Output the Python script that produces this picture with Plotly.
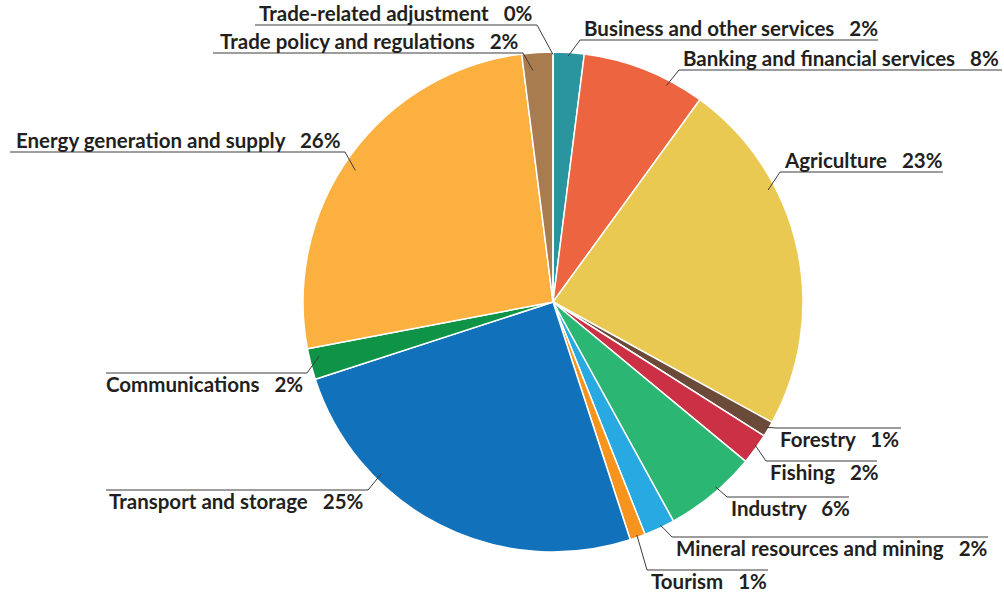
import math
import plotly.graph_objects as go

# Aid for trade by sector, share of total (%)
sectors = [
    "Business and other services",
    "Banking and financial services",
    "Agriculture",
    "Forestry",
    "Fishing",
    "Industry",
    "Mineral resources and mining",
    "Tourism",
    "Transport and storage",
    "Communications",
    "Energy generation and supply",
    "Trade policy and regulations",
    "Trade-related adjustment",
]
shares = [2, 8, 23, 1, 2, 6, 2, 1, 25, 2, 26, 2, 0]
colors = [
    "#2a959e", "#ec6440", "#eac952", "#6b4a3a", "#cc3044", "#2bb673",
    "#29a9e1", "#f7941e", "#1172bb", "#0f9346", "#fbb040", "#a97c50",
    "#6d6e71",
]

W, H = 1004, 592
CX, CY, R = 553, 302, 250  # pie centre and radius in pixels

# Label layout: where the leader starts inside its slice (fraction of the
# slice's sweep, fraction of the radius), the elbow point, the far end of the
# underline, which side the text sits on, and whether it sits above the line.
label_layout = {
    "Business and other services":    dict(f=0.49, rr=0.985, elbow=(580, 40),  end=878, side="right", above=True),
    "Banking and financial services": dict(f=0.71, rr=0.977, elbow=(679, 70),  end=1002, side="right", above=True),
    "Agriculture":                    dict(f=0.32, rr=0.97,  elbow=(780, 172), end=943, side="right", above=True),
    "Forestry":                       dict(f=0.45, rr=0.99,  elbow=(776, 428), end=901, side="right", above=False),
    "Fishing":                        dict(f=0.40, rr=0.99,  elbow=(766, 461), end=877, side="right", above=False),
    "Industry":                       dict(f=0.42, rr=0.985, elbow=(727, 497), end=849, side="right", above=False),
    "Mineral resources and mining":   dict(f=0.43, rr=0.99,  elbow=(672, 537), end=988, side="right", above=False),
    "Tourism":                        dict(f=0.50, rr=0.99,  elbow=(647, 570), end=768, side="right", above=False),
    "Transport and storage":          dict(f=0.70, rr=0.97,  elbow=(368, 490), end=106, side="left", above=False),
    "Communications":                 dict(f=0.69, rr=0.96,  elbow=(307, 373), end=106, side="left", above=False),
    "Energy generation and supply":   dict(f=0.475, rr=0.95, elbow=(345, 152), end=10,  side="left", above=True),
    "Trade policy and regulations":   dict(f=0.31, rr=0.93,  elbow=(523, 53),  end=213, side="left", above=True),
    "Trade-related adjustment":       dict(f=0.50, rr=0.99,  elbow=(537, 25),  end=255, side="left", above=True),
}


def px(x):
    return x / W


def py(y):
    return 1 - y / H


fig = go.Figure(
    go.Pie(
        labels=sectors,
        values=shares,
        sort=False,
        direction="clockwise",
        rotation=0,
        marker=dict(colors=colors, line=dict(color="white", width=1.5)),
        textinfo="none",
        hoverinfo="label+percent",
        showlegend=False,
        domain=dict(x=[px(CX - R), px(CX + R)], y=[py(CY + R), py(CY - R)]),
    )
)

total = sum(shares)
shapes, annotations = [], []
start = 0.0
for name, v in zip(sectors, shares):
    sweep = 360.0 * v / total
    lay = label_layout[name]
    theta = math.radians(start + lay["f"] * sweep)
    tx = CX + lay["rr"] * R * math.sin(theta)
    ty = CY - lay["rr"] * R * math.cos(theta)
    ex, ey = lay["elbow"]
    line_style = dict(color="#3c3c3c", width=1)
    shapes.append(dict(type="line", xref="paper", yref="paper",
                       x0=px(tx), y0=py(ty), x1=px(ex), y1=py(ey), line=line_style))
    shapes.append(dict(type="line", xref="paper", yref="paper",
                       x0=px(ex), y0=py(ey), x1=px(lay["end"]), y1=py(ey), line=line_style))

    text = f"{name}\u00a0\u00a0\u00a0{round(100 * v / total)}%"
    if lay["side"] == "right":
        ax, anchor = ex + 3, "left"
    else:
        ax, anchor = ex - 3, "right"
    if lay["above"]:
        ay, yanchor = ey + 1, "bottom"
    else:
        ay, yanchor = ey - 2, "top"
    annotations.append(dict(
        text=text, xref="paper", yref="paper", x=px(ax), y=py(ay),
        xanchor=anchor, yanchor=yanchor, showarrow=False, borderpad=0,
        font=dict(family="Lato", size=20.5, color="#231f20", weight="bold"),
    ))
    start += sweep

fig.update_layout(
    width=W, height=H,
    margin=dict(l=0, r=0, t=0, b=0),
    paper_bgcolor="white", plot_bgcolor="white",
    shapes=shapes, annotations=annotations,
)

fig.write_html("out.html")
